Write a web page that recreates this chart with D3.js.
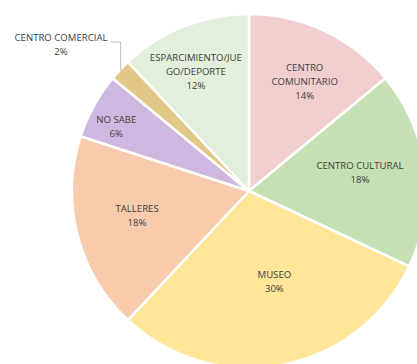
<!DOCTYPE html>
<html>
<head>
<meta charset="utf-8">
<script src="https://cdn.jsdelivr.net/npm/d3@7"></script>
<style>
  body { margin: 0; background: #fff; }
  svg { display: block; }
  .label { font-family: "Open Sans", sans-serif; font-size: 9.6px; fill: #404040; }
</style>
</head>
<body>
<svg width="417" height="364"></svg>
<script>
// chart data
var categories = ["CENTRO COMUNITARIO", "CENTRO CULTURAL", "MUSEO", "TALLERES", "NO SABE", "CENTRO COMERCIAL", "ESPARCIMIENTO/JUEGO/DEPORTE"];
var values = [14, 18, 30, 18, 6, 2, 12];
// label lines as excel wrapped them
var labelLines = [
  ["CENTRO", "COMUNITARIO"],
  ["CENTRO CULTURAL"],
  ["MUSEO"],
  ["TALLERES"],
  ["NO SABE"],
  ["CENTRO COMERCIAL"],
  ["ESPARCIMIENTO/JUE", "GO/DEPORTE"]
];
var colors = ["#f2cfcf", "#c5e0b4", "#ffe699", "#f8cbad", "#cfb8e0", "#e2c886", "#e2efda"];

// layout: how far out each label sits (fraction of radius) plus a small nudge
var labelRadius = [0.686, 0.632, 0.523, 0.653, 0.83, 0, 0.723];
var labelNudge = [[4, 0], [0, -4], [8, 0], [0, -4], [-4, 6], [0, 0], [-6, 0]];

var svg = d3.select("svg"),
    cx = 249, cy = 191, radius = 177;

var g = svg.append("g").attr("transform", "translate(" + cx + "," + cy + ")");

var pie = d3.pie().sort(null).value(function(d) { return d; });
var arcs = pie(values);

var arc = d3.arc().innerRadius(0).outerRadius(radius);

g.selectAll("path")
  .data(arcs)
  .enter().append("path")
    .attr("d", arc)
    .attr("fill", function(d, i) { return colors[i]; })
    .attr("stroke", "#fff")
    .attr("stroke-width", 2.5)
    .attr("stroke-linejoin", "round");

var lineH = 14;

arcs.forEach(function(d, i) {
  var lines = labelLines[i].concat([values[i] + "%"]);
  var x, y;
  if (i === 5) {
    // small slice: label outside with a leader line
    x = 61 - cx; y = 38 - cy;
    var mid = (d.startAngle + d.endAngle) / 2;
    var ex = Math.sin(mid) * (radius - 1), ey = -Math.cos(mid) * (radius - 1);
    g.append("path")
      .attr("d", "M" + (x + 50) + "," + (y + 4) + "H" + ex + "V" + ey)
      .attr("fill", "none")
      .attr("stroke", "#a6a6a6")
      .attr("stroke-width", 0.8);
  } else {
    var m = (d.startAngle + d.endAngle) / 2, r = radius * labelRadius[i];
    x = Math.sin(m) * r + labelNudge[i][0];
    y = -Math.cos(m) * r + labelNudge[i][1] - (lines.length - 1) * lineH / 2;
  }
  var t = g.append("text")
    .attr("class", "label")
    .attr("text-anchor", "middle");
  lines.forEach(function(s, j) {
    t.append("tspan")
      .attr("x", x)
      .attr("y", y + j * lineH)
      .attr("dy", "0.35em")
      .text(s);
  });
});
</script>
</body>
</html>
